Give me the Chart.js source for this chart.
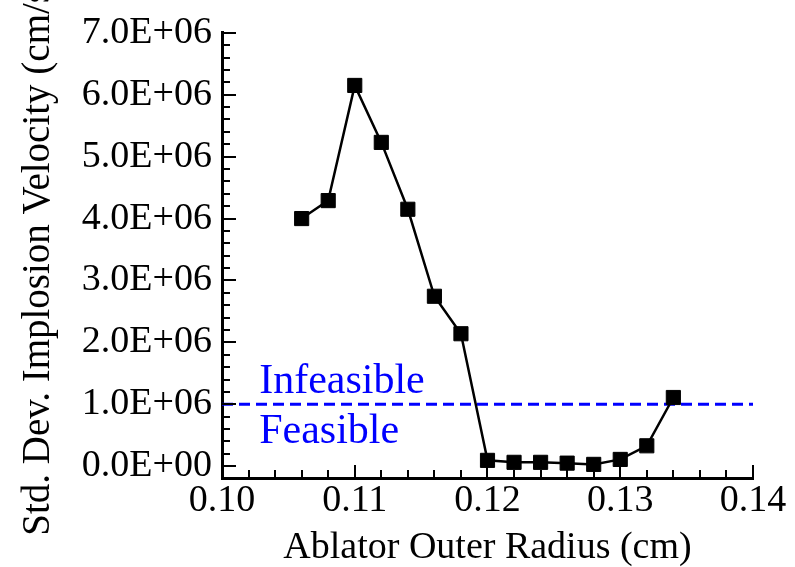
<!DOCTYPE html>
<html>
<head>
<meta charset="utf-8">
<script src="https://cdn.jsdelivr.net/npm/chart.js@4.4.1/dist/chart.umd.min.js"></script>
<style>
  html, body { margin: 0; padding: 0; background: #fff; }
  #wrap { width: 795px; height: 567px; }
</style>
</head>
<body>
<div id="wrap"><canvas id="chart" width="795" height="567"></canvas></div>
<script>
// data
var radius = [0.106, 0.108, 0.110, 0.112, 0.114, 0.116, 0.118, 0.120, 0.122, 0.124, 0.126, 0.128, 0.130, 0.132, 0.134];
var stdDev = [4.0e6, 4.29e6, 6.15e6, 5.23e6, 4.15e6, 2.745e6, 2.14e6, 0.095e6, 0.063e6, 0.063e6, 0.05e6, 0.03e6, 0.11e6, 0.33e6, 1.11e6];
var limitX = [0.10, 0.14];
var limitY = [1.0e6, 1.0e6];
var xTicks = [0.10, 0.102, 0.104, 0.106, 0.108, 0.11, 0.112, 0.114, 0.116, 0.118, 0.12, 0.122, 0.124, 0.126, 0.128, 0.13, 0.132, 0.134, 0.136, 0.138, 0.14];
var yTicks = [0, 2e5, 4e5, 6e5, 8e5, 1e6, 1.2e6, 1.4e6, 1.6e6, 1.8e6, 2e6, 2.2e6, 2.4e6, 2.6e6, 2.8e6, 3e6, 3.2e6, 3.4e6, 3.6e6, 3.8e6, 4e6, 4.2e6, 4.4e6, 4.6e6, 4.8e6, 5e6, 5.2e6, 5.4e6, 5.6e6, 5.8e6, 6e6, 6.2e6, 6.4e6, 6.6e6, 6.8e6, 7e6];

Chart.defaults.font.family = "'Liberation Serif', 'Times New Roman', serif";
Chart.defaults.color = '#000';

function sci(v) {
    if (v === 0) return '0.0E+00';
    var e = Math.floor(Math.log10(Math.abs(v)) + 1e-9);
    var m = v / Math.pow(10, e);
    return m.toFixed(1) + 'E' + (e < 0 ? '-' : '+') + String(Math.abs(e)).padStart(2, '0');
}
function isMajorX(v) { return Math.abs(v * 100 - Math.round(v * 100)) < 1e-6; }
function isMajorY(v) { return Math.abs(v / 1e6 - Math.round(v / 1e6)) < 1e-9; }

// tick marks pointing into the plot, plus the Infeasible / Feasible notes
var innerTicks = {
    id: 'innerTicks',
    afterDraw: function(chart) {
        var ctx = chart.ctx, xs = chart.scales.x, ys = chart.scales.y;
        var area = chart.chartArea;
        ctx.save();
        ctx.strokeStyle = '#000';
        ctx.lineWidth = 2;
        xTicks.forEach(function(v) {
            var px = Math.round(xs.getPixelForValue(v));
            var len = isMajorX(v) ? 13 : 8;
            ctx.beginPath();
            ctx.moveTo(px, area.bottom);
            ctx.lineTo(px, area.bottom - len);
            ctx.stroke();
        });
        yTicks.forEach(function(v) {
            var py = Math.round(ys.getPixelForValue(v));
            var len = isMajorY(v) ? 14 : 8;
            ctx.beginPath();
            ctx.moveTo(area.left, py);
            ctx.lineTo(area.left + len, py);
            ctx.stroke();
        });
        ctx.fillStyle = '#0000ff';
        ctx.font = "42px 'Liberation Serif', 'Times New Roman', serif";
        ctx.textAlign = 'left';
        ctx.textBaseline = 'alphabetic';
        ctx.fillText('Infeasible', xs.getPixelForValue(0.1028), ys.getPixelForValue(1.18e6));
        ctx.fillText('Feasible', xs.getPixelForValue(0.1028), ys.getPixelForValue(0.37e6));
        ctx.restore();
    }
};

var ctx = document.getElementById('chart').getContext('2d');
var chart = new Chart(ctx, {
    type: 'scatter',
    data: {
        datasets: [{
            label: 'Std. Dev.',
            data: radius.map(function(r, i) { return {x: r, y: stdDev[i]}; }),
            showLine: true,
            borderColor: '#000',
            borderWidth: 2.5,
            pointStyle: 'rect',
            pointRadius: 10,
            pointBackgroundColor: '#000',
            pointBorderColor: '#000',
            pointBorderWidth: 1,
            order: 1
        }, {
            label: 'Limit',
            data: limitX.map(function(x, i) { return {x: x, y: limitY[i]}; }),
            showLine: true,
            borderColor: '#0000ff',
            borderWidth: 3,
            borderDash: [11, 6],
            pointRadius: 0,
            order: 2
        }]
    },
    options: {
        responsive: false,
        animation: false,
        devicePixelRatio: 1,
        layout: { padding: { top: 24, right: 42, bottom: 0, left: 0 } },
        plugins: {
            legend: { display: false },
            tooltip: { enabled: false }
        },
        scales: {
            x: {
                type: 'linear',
                min: 0.10,
                max: 0.14,
                afterBuildTicks: function(scale) {
                    scale.ticks = xTicks.map(function(v) { return {value: v}; });
                },
                afterFit: function(scale) { scale.height = 89; },
                grid: { display: false, drawTicks: false },
                border: { display: true, color: '#000', width: 3 },
                ticks: {
                    autoSkip: false,
                    maxRotation: 0,
                    padding: 0,
                    font: { size: 38 },
                    callback: function(v) { return isMajorX(v) ? v.toFixed(2) : ''; }
                },
                title: {
                    display: true,
                    text: 'Ablator Outer Radius (cm)',
                    font: { size: 38, lineHeight: 1 },
                    padding: { top: 0, bottom: 0 }
                }
            },
            y: {
                type: 'linear',
                min: -0.19e6,
                max: 7.0e6,
                afterBuildTicks: function(scale) {
                    scale.ticks = yTicks.map(function(v) { return {value: v}; });
                },
                afterFit: function(scale) { scale.width = 222; },
                grid: { display: false, drawTicks: false },
                border: { display: true, color: '#000', width: 3 },
                ticks: {
                    autoSkip: false,
                    padding: 10,
                    font: { size: 38 },
                    callback: function(v) { return isMajorY(v) ? sci(v) : ''; }
                },
                title: {
                    display: true,
                    text: 'Std. Dev. Implosion Velocity (cm/s)',
                    font: { size: 39, lineHeight: 1 },
                    padding: { top: 19, bottom: 0 }
                }
            }
        }
    },
    plugins: [innerTicks]
});
</script>
</body>
</html>
